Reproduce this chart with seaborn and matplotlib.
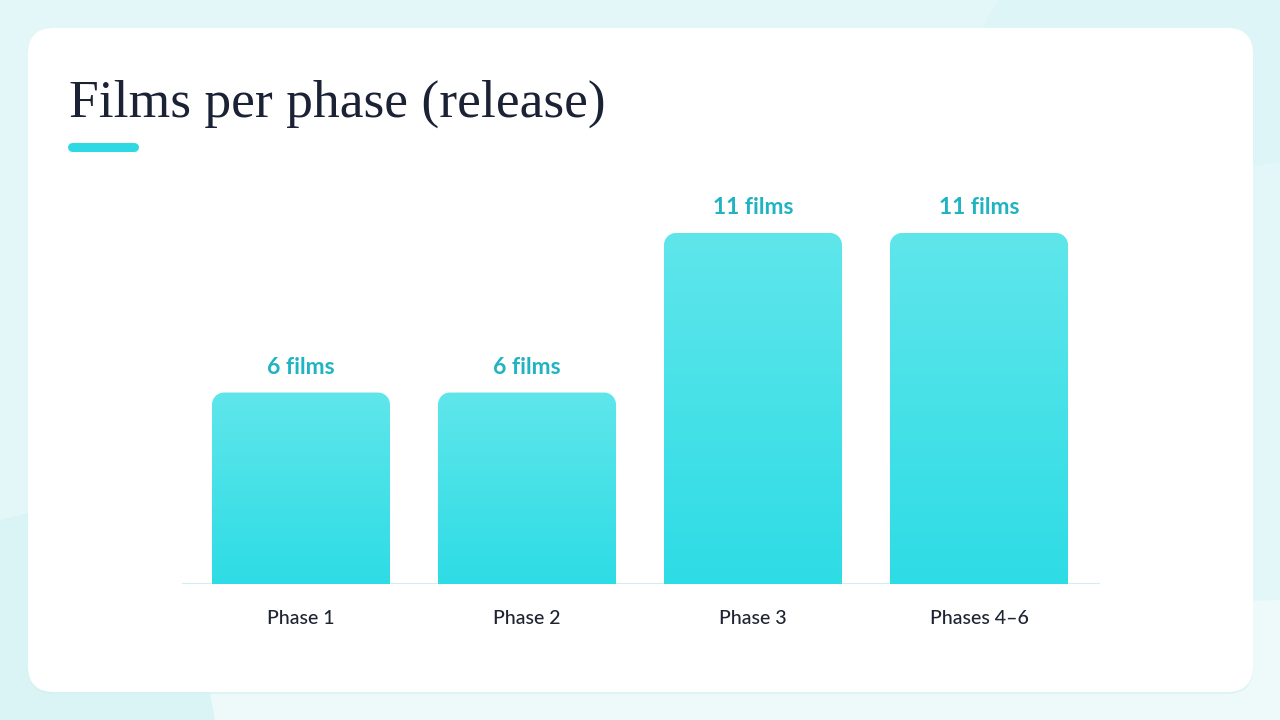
import numpy as np
import pandas as pd
import matplotlib
matplotlib.use("Agg")
import matplotlib.pyplot as plt
import seaborn as sns
from matplotlib.patches import FancyBboxPatch, PathPatch, Polygon, Ellipse
from matplotlib.path import Path

# ---- data ----
phases = ["Phase 1", "Phase 2", "Phase 3", "Phases 4\u20136"]
films = [6, 6, 11, 11]
bar_labels = ["6 films", "6 films", "11 films", "11 films"]
title = "Films per phase (release)"

# ---- colours ----
BG = "#e3f7f9"
CARD = "#ffffff"
TITLE_C = "#1b2236"
ACCENT = "#2fd9e3"
LABEL_C = "#20b4c3"
TICK_C = "#1f2433"
TOP_C = "#5fe6eb"
BOT_C = "#2edce5"
BASE_C = "#c9eff3"

sns.set_theme(style="white")
plt.rcParams["font.family"] = ["Lato", "DejaVu Sans"]

W, H = 1280, 720
fig = plt.figure(figsize=(12.8, 7.2), dpi=100, facecolor=BG)

# background / card axes in pixel units
bg = fig.add_axes([0, 0, 1, 1], zorder=0)
bg.set_xlim(0, W)
bg.set_ylim(H, 0)
bg.axis("off")
bg.add_patch(Polygon([[0, 520], [60, 505], [160, 540], [230, 720], [0, 720]],
                     closed=True, facecolor="#daf4f6", edgecolor="none", zorder=0))
bg.add_patch(Polygon([[200, 640], [1280, 600], [1280, 720], [215, 720]],
                     closed=True, facecolor="#eef9fa", edgecolor="none", zorder=0))
bg.add_patch(Ellipse((1200, 50), 440, 240, facecolor="#ddf5f7", edgecolor="none", zorder=0))
# card shadow + card
bg.add_patch(FancyBboxPatch((28, 30), 1225, 664,
                            boxstyle="round,pad=0,rounding_size=26",
                            facecolor="#d6eef1", edgecolor="none", zorder=1, alpha=0.6))
bg.add_patch(FancyBboxPatch((28, 28), 1225, 664,
                            boxstyle="round,pad=0,rounding_size=26",
                            facecolor=CARD, edgecolor="none", zorder=2))
bg.text(69, 117, title, fontsize=38.5, color=TITLE_C, ha="left", va="baseline",
        family=["Liberation Serif", "DejaVu Serif"], zorder=3)
bg.plot([72, 134], [147, 147], color=ACCENT, lw=6.5, solid_capstyle="round", zorder=3)

# chart axes
px_left, px_right, px_base, px_top = 182, 1100, 584, 180
ax = fig.add_axes([px_left / W, 1 - px_base / H, (px_right - px_left) / W,
                   (px_base - px_top) / H], zorder=1)
ax.patch.set_alpha(0)

df = pd.DataFrame({"phase": phases, "films": films})
sns.barplot(data=df, x="phase", y="films", color=BOT_C, width=178 / 226, ax=ax,
            saturation=1)

slot = 226.0
xlim = (-119 / slot, 3 + 121 / slot)
ppu_y = (584 - 233) / 11.0
ylim = (0, (px_base - px_top) / ppu_y)

rx = 12 / slot
ry = 12 / ppu_y
k = 0.5523
grad = np.linspace(0, 1, 256)[:, None]
cmap = matplotlib.colors.LinearSegmentedColormap.from_list("g", [TOP_C, BOT_C])

for p in list(ax.patches):
    x0 = p.get_x()
    w = p.get_width()
    y1 = p.get_height()
    x1 = x0 + w
    y0 = 0
    p.set_visible(False)
    verts = [(x0, y0), (x0, y1 - ry),
             (x0, y1 - ry + k * ry), (x0 + rx - k * rx, y1), (x0 + rx, y1),
             (x1 - rx, y1),
             (x1 - rx + k * rx, y1), (x1, y1 - ry + k * ry), (x1, y1 - ry),
             (x1, y0), (x0, y0)]
    codes = [Path.MOVETO, Path.LINETO,
             Path.CURVE4, Path.CURVE4, Path.CURVE4,
             Path.LINETO,
             Path.CURVE4, Path.CURVE4, Path.CURVE4,
             Path.LINETO, Path.CLOSEPOLY]
    shape = PathPatch(Path(verts, codes), facecolor="none", edgecolor="none")
    ax.add_patch(shape)
    im = ax.imshow(grad, extent=(x0, x1, y0, y1), aspect="auto", cmap=cmap,
                   origin="upper", zorder=2)
    im.set_clip_path(shape)

for i, (v, lab) in enumerate(zip(films, bar_labels)):
    ax.annotate(lab, xy=(i, v), xytext=(0, 18), textcoords="offset points",
                ha="center", va="center", fontsize=16.5, fontweight="bold",
                color=LABEL_C, family=["Lato", "DejaVu Sans"])

ax.axhline(0, color=BASE_C, lw=2, zorder=1)
ax.set_xlim(*xlim)
ax.set_ylim(*ylim)
ax.set_xlabel("")
ax.set_ylabel("")
ax.set_yticks([])
sns.despine(ax=ax, left=True, bottom=True, top=True, right=True)
ax.tick_params(axis="x", length=0, pad=19, labelsize=14, labelcolor=TICK_C)
for t in ax.get_xticklabels():
    t.set_family(["Lato", "DejaVu Sans"])
    t.set_fontweight("medium")

fig.savefig("out.png", dpi=100, facecolor=BG)
